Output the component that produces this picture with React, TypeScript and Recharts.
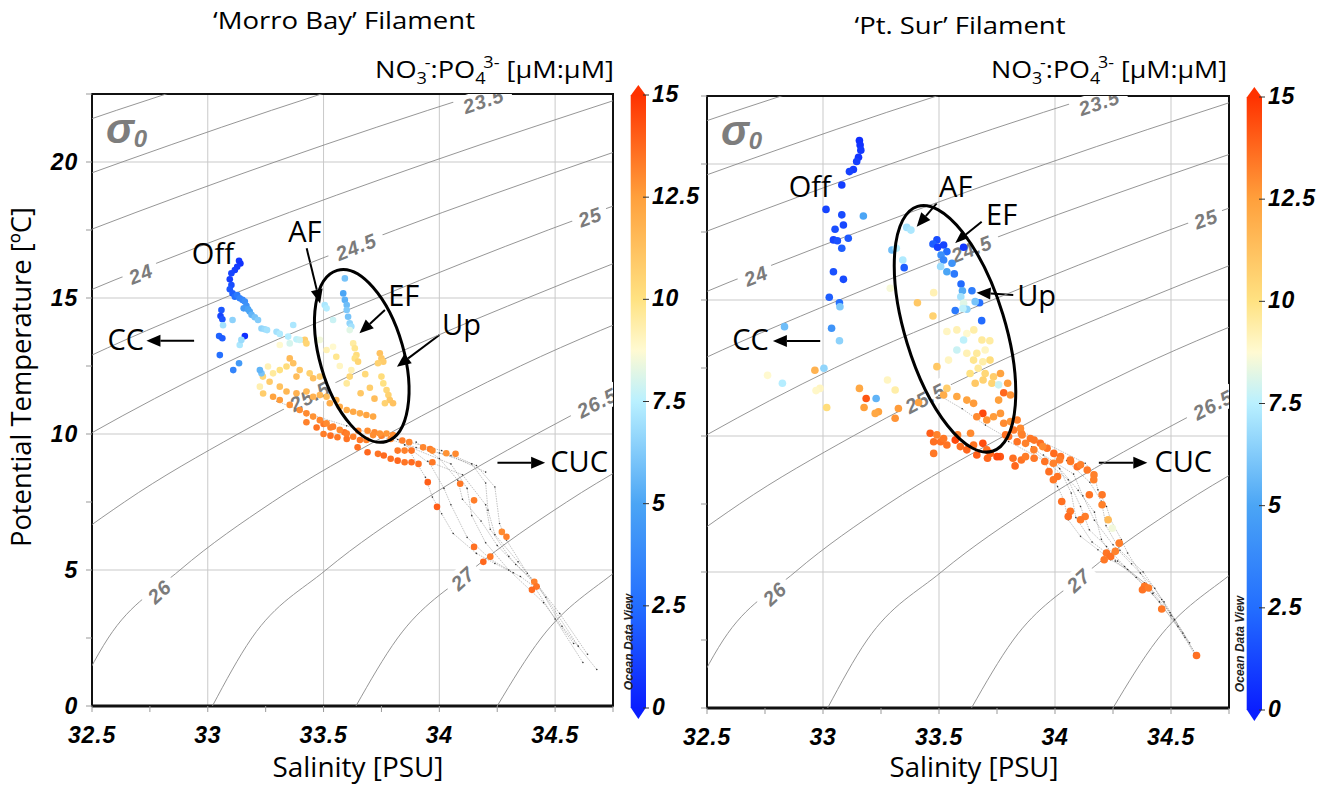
import React from "react";
import {
  ScatterChart,
  Scatter,
  XAxis,
  YAxis,
  CartesianGrid,
  ReferenceArea,
  ReferenceLine,
} from "recharts";

// axis ticks
const salinityTicks = [32.5, 32.75, 33, 33.25, 33.5, 33.75, 34, 34.25, 34.5, 34.75];
const tempTicks = [0, 2.5, 5, 7.5, 10, 12.5, 15, 17.5, 20, 22.5];
const ratioTicks = [0, 2.5, 5, 7.5, 10, 12.5, 15];

// sigma-0 isopycnals as [salinity, temperature]
const iso225 = [[31.96, 20], [32.82, 22.5], [33.8, 25]];
const iso230 = [[31.83, 17.5], [32.63, 20], [33.49, 22.5], [34.47, 25]];
const iso235 = [[31.76, 15], [32.49, 17.5], [33.29, 20], [34.17, 22.5], [35.15, 25]];
const iso240 = [[31.75, 12.5], [32.41, 15], [33.15, 17.5], [33.96, 20], [34.84, 22.5]];
const iso245 = [[31.84, 10], [32.4, 12.5], [33.07, 15], [33.81, 17.5], [34.63, 20], [35.51, 22.5]];
const iso250 = [[32.0, 7.5], [32.49, 10], [33.05, 12.5], [33.73, 15], [34.47, 17.5], [35.29, 20]];
const iso255 = [[31.95, 2.5], [32.25, 5], [32.64, 7.5], [33.13, 10], [33.7, 12.5], [34.38, 15], [35.13, 17.5]];
const iso260 = [[32.41, 0], [32.57, 2.5], [32.88, 5], [33.28, 7.5], [33.78, 10], [34.35, 12.5], [35.04, 15]];
const iso265 = [[33.02, 0], [33.19, 2.5], [33.51, 5], [33.92, 7.5], [34.42, 10], [35.0, 12.5]];
const iso270 = [[33.64, 0], [33.82, 2.5], [34.14, 5], [34.55, 7.5], [35.06, 10]];
const iso275 = [[34.25, 0], [34.44, 2.5], [34.77, 5], [35.19, 7.5]];
const isopycnals = [iso225, iso230, iso235, iso240, iso245, iso250, iso255, iso260, iso265, iso270, iso275];

const isoLabels = [
  { s: 34.19, t: 22.26, text: "23.5" },
  { s: 32.71, t: 15.9, text: "24" },
  { s: 33.64, t: 16.89, text: "24.5" },
  { s: 34.65, t: 17.99, text: "25" },
  { s: 33.44, t: 11.4, text: "25.5" },
  { s: 32.79, t: 4.21, text: "26" },
  { s: 34.68, t: 11.16, text: "26.5" },
  { s: 34.1, t: 4.7, text: "27" },
];
const isoLabelAngles = [-18.5, -21.7, -21.7, -19.7, -27.3, -43, -27, -42.6];

// 'Morro Bay' samples [salinity, temperature, NO3:PO4]
const morroOff = [
  [33.135, 16.37, 0.8], [33.141, 16.27, 0.6], [33.127, 16.15, 0.9], [33.117, 16.03, 1.0],
  [33.102, 15.91, 1.2], [33.095, 15.69, 1.0], [33.102, 15.48, 1.5], [33.095, 15.32, 1.8],
  [33.107, 15.17, 2.0], [33.117, 15.05, 2.5], [33.127, 15.11, 3.0], [33.138, 14.99, 3.4],
  [33.15, 14.93, 3.6], [33.16, 14.87, 4.0], [33.167, 14.71, 4.2], [33.155, 14.62, 4.5],
  [33.174, 14.58, 4.8], [33.181, 14.5, 5.0], [33.189, 14.38, 5.5], [33.203, 14.29, 6.0],
  [33.217, 14.19, 6.3], [33.059, 14.56, 1.8], [33.055, 14.34, 1.2], [33.063, 14.22, 1.6],
  [33.049, 13.6, 2.2], [33.063, 13.52, 1.9], [33.052, 12.9, 2.6], [33.16, 13.6, 0.5],
  [33.11, 12.35, 3.5], [33.107, 14.19, 6.5], [33.066, 14.0, 7.0], [33.138, 13.27, 7.2],
  [33.145, 13.46, 6.8], [33.135, 12.6, 4.5], [33.232, 12.23, 6.0], [33.225, 12.35, 5.5],
  [33.232, 13.88, 6.6], [33.246, 13.85, 6.8], [33.256, 13.82, 7.0], [33.297, 13.76, 7.0],
  [33.311, 13.68, 7.3], [33.347, 13.58, 7.4], [33.369, 14.01, 7.2], [33.383, 13.48, 7.6],
  [33.397, 13.46, 7.8],
];
const morroFilament = [
  [33.592, 15.72, 6.0], [33.585, 15.17, 5.0], [33.592, 14.93, 5.4], [33.6, 14.74, 5.8],
  [33.6, 14.56, 6.2], [33.606, 14.31, 6.0], [33.613, 14.07, 6.6], [33.62, 13.95, 7.0],
  [33.505, 14.74, 7.2], [33.513, 14.62, 7.4], [33.541, 14.19, 7.8], [33.613, 13.82, 8.2],
  [33.628, 13.33, 9.5], [33.635, 13.15, 9.8], [33.642, 12.9, 10.2], [33.635, 12.78, 10.0],
  [33.649, 12.66, 10.5], [33.62, 12.35, 9.2], [33.613, 12.11, 10.4], [33.6, 11.86, 9.6],
  [33.743, 12.97, 11.2], [33.75, 12.78, 11.0], [33.758, 12.66, 10.8], [33.735, 12.6, 10.6],
  [33.75, 12.11, 10.2], [33.758, 11.86, 10.0], [33.772, 11.62, 10.4], [33.78, 11.43, 10.6],
  [33.786, 11.25, 11.0], [33.8, 11.13, 11.2], [33.765, 11.13, 10.6], [33.484, 13.46, 8.5],
  [33.513, 13.09, 9.2], [33.541, 13.21, 8.8], [33.555, 12.84, 9.8], [33.57, 12.5, 9.0],
  [33.68, 12.2, 10.3], [33.7, 11.7, 10.8], [33.66, 11.5, 11.0], [33.72, 11.3, 11.4],
];
const morroMixed = [
  [33.311, 13.27, 8.8], [33.354, 13.33, 8.0], [33.419, 13.46, 10.8], [33.426, 13.33, 10.5],
  [33.354, 12.78, 11.5], [33.369, 12.6, 11.2], [33.397, 12.35, 11.0], [33.44, 12.23, 10.6],
  [33.455, 12.05, 11.3], [33.484, 12.11, 10.8], [33.383, 12.11, 11.4], [33.34, 12.48, 10.2],
  [33.311, 12.35, 10.0], [33.282, 12.23, 9.6], [33.26, 12.48, 9.2], [33.238, 12.11, 10.4],
  [33.267, 11.92, 10.9], [33.311, 11.74, 11.2], [33.34, 11.56, 11.6], [33.383, 11.5, 11.8],
  [33.426, 11.56, 11.5], [33.455, 11.37, 11.8], [33.484, 11.43, 11.6], [33.513, 11.37, 11.4],
  [33.527, 11.13, 12.0], [33.555, 11.25, 11.8], [33.57, 11.0, 12.1], [33.6, 10.88, 12.0],
  [33.628, 10.82, 12.2], [33.657, 10.76, 12.0], [33.685, 10.7, 12.3], [33.714, 10.64, 12.2],
  [33.282, 11.37, 12.4], [33.311, 11.25, 12.6], [33.354, 11.07, 12.8], [33.397, 10.88, 12.9],
  [33.426, 10.76, 13.0], [33.455, 10.64, 12.8], [33.484, 10.51, 13.1], [33.513, 10.39, 13.0],
  [33.541, 10.27, 13.2], [33.57, 10.15, 13.0], [33.6, 10.02, 13.3], [33.628, 9.9, 13.2],
  [33.657, 9.78, 13.4], [33.685, 9.78, 13.2], [33.714, 9.96, 12.9], [33.743, 10.02, 12.8],
  [33.772, 10.02, 12.7], [33.8, 9.96, 12.9], [33.239, 11.49, 10.8], [33.225, 11.74, 9.3],
];
const morroCUC = [
  [33.426, 10.43, 13.2], [33.47, 10.24, 13.5], [33.5, 10.0, 13.3], [33.53, 9.94, 13.6],
  [33.56, 9.88, 13.4], [33.6, 9.82, 13.5], [33.647, 9.51, 13.6], [33.69, 9.33, 13.8],
  [33.735, 9.27, 13.5], [33.76, 9.21, 13.7], [33.79, 9.09, 13.6], [33.82, 9.02, 13.8],
  [33.85, 8.96, 13.5], [33.88, 8.96, 13.7], [33.91, 8.9, 13.6], [33.82, 9.39, 13.4],
  [33.85, 9.39, 13.2], [33.88, 9.39, 13.5], [33.93, 9.51, 13.1], [33.96, 9.45, 13.3],
  [33.97, 9.39, 13.0], [33.97, 8.96, 13.4], [34.03, 9.29, 12.8], [34.07, 9.27, 13.0],
  [33.75, 9.94, 13.2], [33.79, 9.82, 13.0], [33.84, 9.76, 13.3], [33.87, 9.7, 13.1],
  [33.5, 10.37, 13.4], [33.53, 10.24, 13.2], [33.59, 10.06, 13.5], [33.65, 10.12, 13.1],
  [33.69, 10.12, 12.9], [33.72, 10.06, 13.0], [33.95, 8.23, 14.0], [34.09, 8.17, 13.4],
  [34.15, 7.56, 13.3], [33.99, 7.32, 14.0], [34.27, 6.4, 13.0], [34.29, 6.22, 13.2],
  [34.15, 5.85, 13.6], [34.19, 5.3, 13.8], [34.22, 5.49, 13.4], [34.41, 4.57, 13.2],
  [34.42, 4.39, 13.5], [34.4, 4.27, 13.7],
];
// CTD traces behind the bottle samples
const morroMesh = [
  [[33.79, 9.88], [34.01, 9.39], [34.16, 8.84], [34.24, 8.05], [34.26, 6.71], [34.29, 6.1], [34.38, 4.88], [34.43, 4.39], [34.53, 2.93], [34.68, 1.34]],
  [[33.87, 9.39], [33.94, 8.41], [33.97, 7.68], [34.01, 7.07], [34.06, 6.34], [34.16, 5.61], [34.24, 5.24], [34.35, 4.76], [34.41, 4.39], [34.5, 3.2], [34.62, 1.6]],
  [[33.85, 9.6], [34.05, 8.9], [34.12, 8.0], [34.14, 7.0], [34.2, 6.0], [34.3, 5.0], [34.45, 3.8], [34.58, 2.3]],
  [[33.3, 11.2], [33.45, 10.7], [33.6, 10.3], [33.75, 9.9], [33.9, 9.5], [34.05, 9.2], [34.2, 8.6]],
  [[33.95, 9.0], [34.1, 8.5], [34.2, 7.4], [34.22, 6.5], [34.3, 5.5], [34.4, 4.6]],
  [[33.9, 9.7], [34.0, 9.1], [34.08, 8.3], [34.1, 7.6], [34.18, 6.8], [34.25, 5.9], [34.33, 5.2], [34.42, 4.5], [34.52, 3.4], [34.64, 1.9]],
  [[33.82, 9.8], [33.96, 8.9], [34.02, 8.0], [34.05, 7.4], [34.12, 6.2], [34.22, 5.4], [34.32, 4.9]],
  [[34.0, 9.3], [34.14, 8.9], [34.2, 8.2], [34.21, 7.2], [34.24, 6.3], [34.34, 5.3], [34.46, 4.0], [34.6, 2.2]],
];

// 'Pt. Sur' samples [salinity, temperature, NO3:PO4]
const surOff = [
  [33.157, 20.86, 0.5], [33.16, 20.7, 0.6], [33.163, 20.51, 0.8], [33.153, 20.25, 0.7],
  [33.145, 20.09, 1.0], [33.131, 19.8, 0.9], [33.114, 19.72, 1.1], [33.081, 19.23, 1.0],
  [33.013, 18.33, 1.2], [33.081, 18.13, 1.4], [33.088, 17.76, 1.3], [33.052, 17.6, 1.5],
  [33.045, 17.21, 1.2], [33.062, 17.18, 1.6], [33.109, 17.27, 1.8], [33.081, 16.9, 2.0],
  [33.045, 16.04, 1.6], [33.088, 15.76, 1.4], [33.027, 15.1, 2.0], [33.071, 14.9, 2.6],
  [33.073, 14.75, 6.2], [33.037, 13.96, 4.2], [33.071, 13.5, 6.5], [33.174, 18.09, 5.0],
  [33.004, 12.49, 6.6],
];
const surFilament = [
  [33.361, 17.67, 7.0], [33.379, 17.57, 7.2], [33.297, 16.84, 5.8], [33.316, 16.9, 7.5],
  [33.344, 16.47, 7.3], [33.35, 16.19, 2.0], [33.29, 15.43, 8.6], [33.491, 17.21, 1.5],
  [33.474, 17.06, 2.0], [33.494, 16.94, 1.0], [33.52, 17.02, 1.2], [33.534, 16.78, 2.5],
  [33.509, 16.65, 4.0], [33.52, 16.47, 3.6], [33.556, 16.35, 4.2], [33.566, 15.96, 3.0],
  [33.534, 16.04, 5.0], [33.507, 16.23, 6.8], [33.606, 16.94, 0.8], [33.595, 15.59, 2.4],
  [33.601, 15.34, 5.2], [33.642, 15.34, 3.2], [33.594, 15.12, 7.0], [33.675, 14.9, 2.6],
  [33.656, 14.94, 6.0], [33.606, 14.88, 8.2], [33.62, 14.66, 6.5], [33.57, 14.61, 3.0],
  [33.684, 14.24, 2.4], [33.603, 14.69, 7.6], [33.477, 15.27, 9.2], [33.474, 14.41, 10.6],
  [33.407, 14.9, 11.0], [33.534, 13.84, 9.0], [33.577, 13.9, 9.2], [33.62, 13.77, 8.8],
  [33.65, 13.9, 9.4], [33.606, 13.53, 7.6], [33.685, 13.53, 9.6], [33.719, 13.5, 9.5],
  [33.577, 13.16, 7.8], [33.62, 13.04, 9.2], [33.663, 13.04, 9.6], [33.699, 13.16, 9.0],
  [33.649, 12.79, 9.8], [33.689, 12.73, 9.4], [33.72, 12.79, 10.2], [33.669, 12.49, 9.6],
  [33.634, 12.3, 10.0], [33.699, 12.3, 10.4], [33.735, 12.18, 10.8], [33.656, 11.94, 11.0],
  [33.69, 12.06, 10.6], [33.728, 11.94, 10.5], [33.765, 12.3, 12.4], [33.757, 11.88, 7.8],
  [33.796, 11.94, 12.6], [33.779, 11.59, 13.8], [33.757, 11.32, 12.5], [33.808, 11.51, 12.8],
  [33.491, 12.55, 11.0], [33.541, 12.79, 9.0], [33.534, 11.75, 10.8], [33.52, 11.51, 12.0],
  [33.577, 11.45, 12.2], [33.62, 11.32, 12.4], [33.649, 11.2, 12.6], [33.689, 10.83, 14.5],
  [33.663, 10.71, 13.0], [33.706, 10.59, 12.8], [33.735, 10.71, 12.6], [33.765, 10.83, 12.7],
  [33.779, 10.47, 13.0], [33.808, 10.53, 12.8], [33.837, 10.59, 13.2], [33.822, 10.22, 13.4],
  [33.851, 10.28, 13.0], [33.858, 10.04, 13.2], [33.787, 10.04, 13.6],
];
const surMixed = [
  [33.278, 12.06, 9.0], [33.311, 11.69, 9.4], [33.229, 11.38, 5.5], [33.186, 11.38, 14.2],
  [33.157, 11.75, 12.2], [33.177, 11.05, 12.5], [33.239, 10.89, 12.4], [33.225, 10.83, 12.2],
  [33.016, 11.05, 10.2], [32.987, 11.75, 9.0], [32.965, 12.42, 11.8], [32.97, 11.67, 8.9],
  [33.325, 11.01, 12.6], [33.311, 10.65, 12.8], [33.412, 11.23, 12.4], [33.462, 10.1, 14.0],
  [33.491, 10.04, 13.2], [33.52, 9.91, 13.4], [33.477, 9.79, 13.6], [33.534, 9.67, 13.5],
  [33.57, 9.85, 14.5], [33.592, 9.61, 13.6], [33.62, 9.49, 13.8], [33.649, 9.67, 13.5],
  [33.689, 9.73, 14.4], [33.706, 9.49, 13.6], [33.477, 9.36, 13.4], [33.721, 9.36, 13.8],
  [33.75, 9.24, 14.5], [32.834, 14.02, 5.8], [32.825, 11.94, 7.4], [32.761, 12.23, 8.8],
];
const surCUC = [
  [33.894, 9.91, 13.4], [33.937, 9.73, 13.6], [33.966, 9.55, 13.5], [33.995, 9.36, 13.7],
  [33.909, 9.49, 13.2], [34.024, 9.24, 13.5], [34.067, 9.06, 13.3], [34.096, 8.87, 13.6],
  [34.139, 8.75, 13.4], [34.168, 8.57, 13.2], [33.507, 9.79, 13.6], [33.58, 10.04, 13.2],
  [33.636, 10.1, 13.0], [33.663, 9.3, 14.0], [33.709, 9.18, 13.8], [33.764, 9.24, 14.2],
  [33.819, 9.18, 13.6], [33.855, 9.12, 13.5], [33.873, 9.24, 13.3], [33.91, 9.18, 13.4],
  [33.828, 8.9, 13.8], [33.956, 9.06, 13.5], [33.993, 9.0, 13.2], [34.02, 9.12, 13.3],
  [34.066, 9.12, 13.4], [34.11, 8.94, 13.2], [33.947, 9.61, 13.0], [33.91, 9.85, 13.4],
  [33.873, 9.73, 13.2], [33.837, 9.79, 13.5], [33.8, 9.98, 13.6], [33.855, 10.1, 13.1],
  [33.974, 8.69, 13.6], [33.993, 8.39, 13.4], [34.011, 8.51, 13.5], [34.167, 8.39, 13.2],
  [34.148, 7.84, 13.5], [34.203, 7.84, 13.4], [34.029, 7.59, 13.6], [34.066, 7.23, 13.5],
  [34.057, 7.04, 13.7], [34.13, 7.04, 13.3], [34.11, 6.92, 13.4], [34.203, 7.47, 13.2],
  [34.229, 6.92, 11.5], [34.247, 6.61, 8.5], [34.277, 6.06, 13.3], [34.222, 5.7, 13.5],
  [34.24, 5.57, 13.6], [34.212, 5.45, 13.4], [34.26, 5.76, 13.2], [34.386, 4.47, 13.4],
  [34.377, 4.35, 13.5], [34.403, 4.41, 13.3], [34.46, 3.64, 13.4], [34.61, 1.93, 13.6],
];
const surMesh = [
  [[33.85, 10.2], [34.13, 9.0], [34.167, 8.63], [34.185, 8.02], [34.222, 7.41], [34.24, 6.92], [34.286, 6.19], [34.313, 5.7], [34.368, 4.96], [34.423, 4.23], [34.496, 3.5], [34.551, 2.76], [34.61, 1.93]],
  [[33.8, 9.8], [33.947, 9.12], [33.984, 8.63], [34.011, 8.14], [34.038, 7.65], [34.057, 6.92], [34.11, 6.31], [34.185, 5.82], [34.24, 5.45], [34.313, 5.09], [34.386, 4.6], [34.46, 3.99], [34.515, 3.25], [34.61, 1.93]],
  [[33.9, 9.5], [34.057, 8.39], [34.11, 7.41], [34.148, 6.55], [34.222, 5.94], [34.3, 5.2], [34.42, 4.2], [34.53, 3.0]],
  [[34.0, 9.0], [34.1, 8.0], [34.17, 7.2], [34.2, 6.2], [34.26, 5.4], [34.35, 4.8], [34.45, 3.9], [34.56, 2.6]],
  [[33.5, 11.5], [33.6, 11.0], [33.7, 10.4], [33.8, 9.9]],
  [[33.95, 9.3], [34.08, 8.6], [34.12, 7.8], [34.17, 6.9], [34.25, 6.0], [34.33, 5.3], [34.43, 4.4], [34.5, 3.4], [34.6, 2.0]],
  [[33.9, 9.6], [34.02, 8.8], [34.07, 7.9], [34.09, 7.0], [34.16, 6.1], [34.27, 5.4], [34.4, 4.5]],
  [[34.05, 9.1], [34.15, 8.3], [34.2, 7.6], [34.22, 6.7], [34.28, 5.8], [34.38, 5.0], [34.47, 3.9], [34.58, 2.4]],
];

// annotations
const morroNotes = [
  { s: 33.022, t: 16.64, label: "Off" },
  { s: 33.419, t: 17.44, label: "AF" },
  { s: 33.846, t: 15.11, label: "EF" },
  { s: 34.096, t: 14.01, label: "Up" },
  { s: 32.646, t: 13.46, label: "CC" },
  { s: 34.604, t: 8.98, label: "CUC" },
];
const morroArrows = [
  [[33.427, 16.83], [33.485, 14.8]],
  [[33.765, 14.56], [33.655, 13.7]],
  [[34.0, 13.64], [33.817, 12.47]],
  [[32.941, 13.43], [32.735, 13.43]],
  [[34.251, 8.94], [34.457, 8.94]],
];
const surNotes = [
  { s: 32.943, t: 19.17, label: "Off" },
  { s: 33.572, t: 19.17, label: "AF" },
  { s: 33.77, t: 18.13, label: "EF" },
  { s: 33.921, t: 15.18, label: "Up" },
  { s: 32.688, t: 13.53, label: "CC" },
  { s: 34.553, t: 9.06, label: "CUC" },
];
const surArrows = [
  [[33.49, 18.55], [33.404, 17.69]],
  [[33.684, 17.88], [33.569, 17.08]],
  [[33.82, 15.18], [33.662, 15.27]],
  [[32.988, 13.49], [32.784, 13.49]],
  [[34.189, 9.02], [34.398, 9.02]],
];
const morroEllipse = [{ s: 33.665, t: 12.87 }];
const surEllipse = [{ s: 33.569, t: 13.94 }];
const sigmaMark = [{ s: 32.56, t: 20.7 }];

const SANS = "'Open Sans', 'Noto Sans', sans-serif";
const BOLD_IT = {
  fontFamily: "'Liberation Sans', Arial, sans-serif",
  fontWeight: 700,
  fontStyle: "italic",
};

const cmap = [
  [0, [10, 30, 255]],
  [2.5, [35, 110, 255]],
  [5, [75, 165, 245]],
  [7.5, [185, 240, 255]],
  [8.75, [255, 250, 210]],
  [10, [255, 226, 130]],
  [12.5, [255, 160, 60]],
  [15, [255, 50, 0]],
] as [number, number[]][];

function ratioColor(v: number) {
  const x = Math.max(0, Math.min(15, v));
  for (let i = 1; i < cmap.length; i++) {
    const [v1, c1] = cmap[i];
    const [v0, c0] = cmap[i - 1];
    if (x <= v1) {
      const f = (x - v0) / (v1 - v0);
      const c = c0.map((a, k) => Math.round(a + (c1[k] - a) * f));
      return `rgb(${c[0]},${c[1]},${c[2]})`;
    }
  }
  return "rgb(255,50,0)";
}

const toXY = (rows: number[][]) => rows.map(([s, t]) => ({ s, t }));
const toSTR = (rows: number[][]) => rows.map(([s, t, r]) => ({ s, t, r }));
const isoLabelData = isoLabels.map((l, i) => ({ ...l, angle: isoLabelAngles[i] }));

const TICK_TEXT = { ...BOLD_IT, fontSize: 23, letterSpacing: 0.8 };

const XTick = ({ x, y, payload }: any) => {
  const v = payload.value;
  if (Math.abs(v * 2 - Math.round(v * 2)) > 1e-6 || v > 34.6) return <g />;
  return (
    <text x={x} y={y + 28.5} textAnchor="middle" style={TICK_TEXT}>
      {v}
    </text>
  );
};

const makeYTick = (show: boolean) => ({ x, y, payload }: any) => {
  const v = payload.value;
  if (!show || v % 5 !== 0) return <g />;
  return (
    <text x={x - 6} y={y + 8} textAnchor="end" style={TICK_TEXT}>
      {v}
    </text>
  );
};

const Empty = () => <g />;

const IsoLabel = (p: any) => {
  const { cx, cy, payload } = p;
  const w = payload.text.length * 11 + 14;
  return (
    <g transform={`rotate(${payload.angle} ${cx} ${cy})`}>
      <rect x={cx - w / 2} y={cy - 11} width={w} height={22} fill="#fff" />
      <text
        x={cx}
        y={cy + 7.5}
        textAnchor="middle"
        style={{ ...BOLD_IT, fontSize: 20, fill: "#7b7b7b", letterSpacing: 0.8 }}
      >
        {payload.text}
      </text>
    </g>
  );
};

const SigmaLabel = (p: any) => (
  <text x={p.cx} y={p.cy} style={{ ...BOLD_IT, fill: "#7d7d7d" }}>
    <tspan fontSize={42}>σ</tspan>
    <tspan fontSize={24} dy={4}>0</tspan>
  </text>
);

const NoteLabel = (p: any) => (
  <text
    x={p.cx}
    y={p.cy + 10.5}
    textAnchor="middle"
    style={{ fontFamily: SANS, fontSize: 29, fill: "#000" }}
  >
    {p.payload.label}
  </text>
);

const ArrowShape = (p: any) => {
  const { x1, y1, x2, y2 } = p;
  const ang = Math.atan2(y2 - y1, x2 - x1);
  const L = 14;
  const W = 6;
  const bx = x2 - L * Math.cos(ang);
  const by = y2 - L * Math.sin(ang);
  const px = -Math.sin(ang) * W;
  const py = Math.cos(ang) * W;
  return (
    <g>
      <line x1={x1} y1={y1} x2={bx} y2={by} stroke="#000" strokeWidth={2} />
      <polygon points={`${x2},${y2} ${bx + px},${by + py} ${bx - px},${by - py}`} fill="#000" />
    </g>
  );
};

const makeEllipse = (rx: number, ry: number, rot: number) => (p: any) => (
  <ellipse
    cx={p.cx}
    cy={p.cy}
    rx={rx}
    ry={ry}
    transform={`rotate(${rot} ${p.cx} ${p.cy})`}
    fill="none"
    stroke="#000"
    strokeWidth={3}
  />
);

const makeDot = (r: number) => (p: any) => (
  <circle cx={p.cx} cy={p.cy} r={r} fill={ratioColor(p.payload.r)} />
);

const MeshDot = (p: any) => <circle cx={p.cx} cy={p.cy} r={0.8} fill="#333" />;

function Panel({
  left,
  width,
  top,
  showY,
  groups,
  mesh,
  notes,
  arrows,
  ellipse,
  ellipseShape,
  dotR,
}: any) {
  const plotW = width === 640 ? 521 : 522;
  const xH = 786 - top - 612;
  const Dot = makeDot(dotR);
  return (
    <div style={{ position: "absolute", left, top: 0 }}>
      <ScatterChart width={width} height={786} margin={{ top, right: width - 92 - plotW, bottom: 0, left: 0 }}>
        <CartesianGrid
          stroke="#c9c9c9"
          horizontalValues={[5, 10, 15, 20]}
          verticalValues={[33, 33.5, 34, 34.5]}
        />
        <XAxis
          type="number"
          dataKey="s"
          domain={[32.5, 34.75]}
          ticks={salinityTicks}
          interval={0}
          allowDataOverflow
          height={xH}
          axisLine={false}
          tickLine={{ stroke: "#999" }}
          tick={<XTick />}
        />
        <YAxis
          type="number"
          dataKey="t"
          domain={[0, 22.5]}
          ticks={tempTicks}
          interval={0}
          allowDataOverflow
          width={92}
          axisLine={false}
          tickLine={{ stroke: "#999" }}
          tick={makeYTick(showY)}
        />
        {isopycnals.map((c, i) => (
          <Scatter
            key={`iso${i}`}
            data={toXY(c)}
            line={{ stroke: "#8a8a8a", strokeWidth: 0.9 }}
            lineJointType="monotoneX"
            shape={Empty}
            isAnimationActive={false}
          />
        ))}
        <Scatter data={isoLabelData} shape={IsoLabel} isAnimationActive={false} />
        <Scatter data={sigmaMark} shape={SigmaLabel} isAnimationActive={false} />
        {mesh.map((m: number[][], i: number) => (
          <Scatter
            key={`mesh${i}`}
            data={toXY(m)}
            line={{ stroke: "#333", strokeWidth: 0.6, strokeOpacity: 0.5, strokeDasharray: "1.5 1" }}
            shape={MeshDot}
            isAnimationActive={false}
          />
        ))}
        {groups.map((g: number[][], i: number) => (
          <Scatter key={`grp${i}`} data={toSTR(g)} shape={Dot} isAnimationActive={false} />
        ))}
        <Scatter data={ellipse} shape={ellipseShape} isAnimationActive={false} />
        <Scatter data={notes} shape={NoteLabel} isAnimationActive={false} />
        {arrows.map((a: number[][], i: number) => (
          <ReferenceLine
            key={`arr${i}`}
            segment={[
              { x: a[0][0], y: a[0][1] },
              { x: a[1][0], y: a[1][1] },
            ]}
            ifOverflow="visible"
            shape={ArrowShape}
          />
        ))}
        <ReferenceArea
          x1={32.5}
          x2={34.75}
          y1={0}
          y2={22.5}
          fill="none"
          fillOpacity={0}
          stroke="#111"
          strokeWidth={2}
          ifOverflow="visible"
        />
        <ReferenceLine y={0} stroke="#111" strokeWidth={3} ifOverflow="visible" />
      </ScatterChart>
    </div>
  );
}

function ColorBar({ x, yTop, yBot, odvX, id }: any) {
  const w = 15.3;
  const ys = (v: number) => yBot - ((yBot - yTop) * v) / 15;
  return (
    <g>
      <defs>
        <linearGradient id={id} x1="0" y1="1" x2="0" y2="0">
          {cmap.map(([v, c]) => (
            <stop key={v} offset={v / 15} stopColor={`rgb(${c[0]},${c[1]},${c[2]})`} />
          ))}
        </linearGradient>
      </defs>
      <rect x={x} y={yTop} width={w} height={yBot - yTop} fill={`url(#${id})`} />
      <polygon points={`${x},${yTop + 0.5} ${x + w / 2},${yTop - 10} ${x + w},${yTop + 0.5}`} fill="rgb(255,50,0)" />
      <polygon points={`${x},${yBot - 0.5} ${x + w / 2},${yBot + 11} ${x + w},${yBot - 0.5}`} fill="rgb(10,30,255)" />
      {ratioTicks.map((v) => (
        <g key={v}>
          <line x1={x + w - 3} x2={x + w + 3} y1={ys(v)} y2={ys(v)} stroke="#333" strokeWidth={1} />
          <text x={x + w + 6} y={ys(v) + 7} style={TICK_TEXT}>
            {v}
          </text>
        </g>
      ))}
      <text
        transform={`translate(${odvX},${yBot - 66}) rotate(-90)`}
        textAnchor="middle"
        style={{ ...BOLD_IT, fontSize: 12, fill: "#222" }}
      >
        Ocean Data View
      </text>
    </g>
  );
}

function Header({ right, width }: any) {
  return (
    <text
      x={right}
      y={78}
      textAnchor="end"
      textLength={width}
      lengthAdjust="spacingAndGlyphs"
      style={{ fontFamily: SANS, fontSize: 24 }}
    >
      NO
      <tspan fontSize={16} dy={6}>3</tspan>
      <tspan fontSize={16} dy={-16} dx={-2}>-</tspan>
      <tspan dy={10}>:PO</tspan>
      <tspan fontSize={16} dy={6}>4</tspan>
      <tspan fontSize={16} dy={-16} dx={-2}>3-</tspan>
      <tspan dy={10}> [μM:μM]</tspan>
    </text>
  );
}

export default function App() {
  return (
    <div
      style={{
        position: "absolute",
        left: 0,
        top: 0,
        width: 1327,
        height: 786,
        background: "#fff",
        overflow: "hidden",
      }}
    >
      <Panel
        left={0}
        width={640}
        top={94}
        showY
        groups={[morroCUC, morroMixed, morroFilament, morroOff]}
        mesh={morroMesh}
        notes={morroNotes}
        arrows={morroArrows}
        ellipse={morroEllipse}
        ellipseShape={makeEllipse(42, 89, -16)}
        dotR={3.3}
      />
      <Panel
        left={615}
        width={642}
        top={96}
        showY={false}
        groups={[surCUC, surMixed, surFilament, surOff]}
        mesh={surMesh}
        notes={surNotes}
        arrows={surArrows}
        ellipse={surEllipse}
        ellipseShape={makeEllipse(50, 128, -17)}
        dotR={3.8}
      />
      <svg
        width={1327}
        height={786}
        style={{ position: "absolute", left: 0, top: 0, pointerEvents: "none" }}
      >
        <text x={344} y={29} textAnchor="middle" textLength={262} lengthAdjust="spacingAndGlyphs" style={{ fontFamily: SANS, fontSize: 24.5 }}>
          ‘Morro Bay’ Filament
        </text>
        <text x={960} y={34} textAnchor="middle" textLength={211} lengthAdjust="spacingAndGlyphs" style={{ fontFamily: SANS, fontSize: 24.5 }}>
          ‘Pt. Sur’ Filament
        </text>
        <Header right={614} width={239} />
        <Header right={1227} width={236} />
        <text x={358} y={777} textAnchor="middle" textLength={171} lengthAdjust="spacingAndGlyphs" style={{ fontFamily: SANS, fontSize: 28 }}>
          Salinity [PSU]
        </text>
        <text x={974} y={777} textAnchor="middle" textLength={169} lengthAdjust="spacingAndGlyphs" style={{ fontFamily: SANS, fontSize: 28 }}>
          Salinity [PSU]
        </text>
        <text
          transform="translate(31,377) rotate(-90)"
          textAnchor="middle"
          textLength={340}
          lengthAdjust="spacingAndGlyphs"
          style={{ fontFamily: SANS, fontSize: 28 }}
        >
          Potential Temperature [ºC]
        </text>
        <ColorBar x={630.7} yTop={95} yBot={708} odvX={633} id="cbLeft" />
        <ColorBar x={1246.7} yTop={97} yBot={710} odvX={1244} id="cbRight" />
      </svg>
    </div>
  );
}
